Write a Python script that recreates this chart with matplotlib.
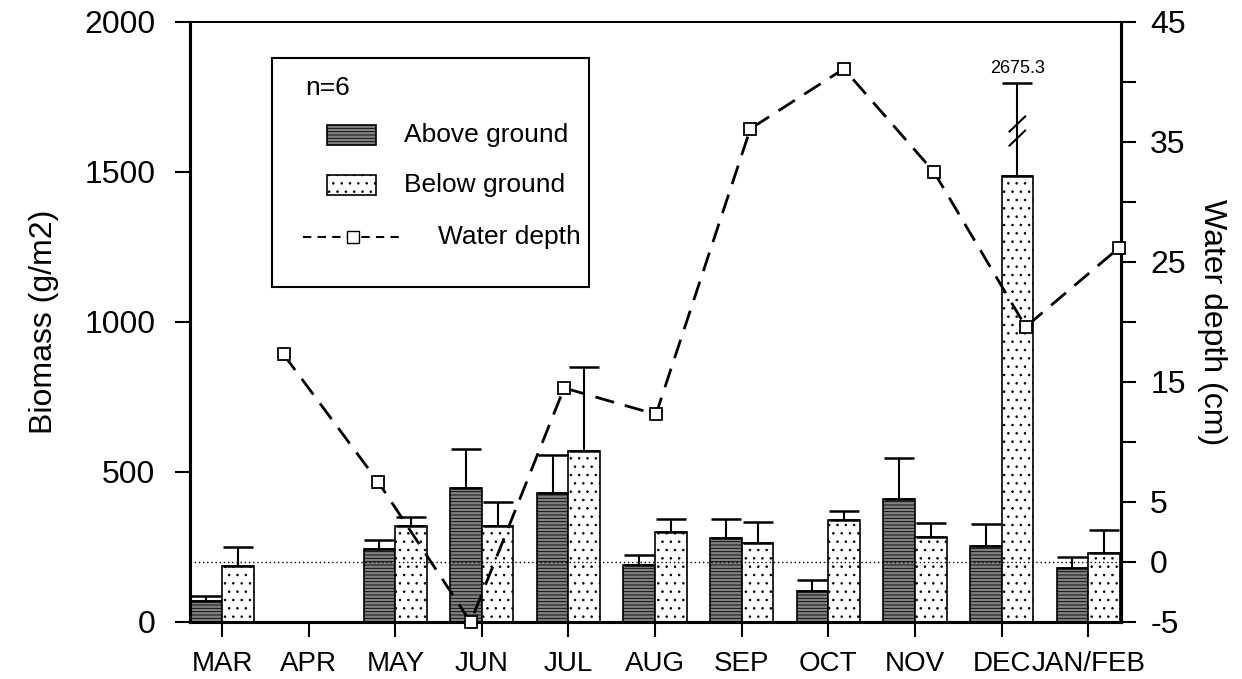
import numpy as np
import matplotlib
matplotlib.use("Agg")
import matplotlib.pyplot as plt
from matplotlib.patches import Rectangle
from matplotlib.lines import Line2D

plt.rcParams['font.family'] = ['Liberation Sans', 'DejaVu Sans']
plt.rcParams['hatch.linewidth'] = 0.6

# Data
months = ['MAR', 'APR', 'MAY', 'JUN', 'JUL', 'AUG', 'SEP', 'OCT', 'NOV', 'DEC', 'JAN/FEB']
above = [71, np.nan, 243, 446, 431, 190, 279, 103, 409, 254, 179]
above_err = [16, np.nan, 29, 131, 126, 33, 64, 37, 139, 73, 39]
below = [188, np.nan, 321, 321, 570, 301, 262, 340, 284, 1487, 231]
below_err = [61, np.nan, 28, 80, 281, 42, 72, 31, 45, 1188.3, 76]

# water depth sampled on its own dates (position in month units)
water_x = [0.71, 1.80, 2.87, 3.95, 5.01, 6.10, 7.18, 8.22, 9.28, 10.36]
water_depth = [17.3, 6.7, -5.0, 14.5, 12.3, 36.1, 41.1, 32.5, 19.6, 26.2]

ymax = 2000
clip_top = 1796  # broken error bar drawn up to here

x = np.arange(len(months))
w = 0.365

fig = plt.figure(figsize=(12.42, 6.79), dpi=100)
ax = fig.add_axes([0.153, 0.084, 0.7496, 0.8836])
ax2 = ax.twinx()

above_kw = dict(facecolor='#808080', edgecolor='black', hatch='-----', linewidth=1.2)
below_kw = dict(facecolor='white', edgecolor='black', hatch='..', linewidth=1.2)

ax.bar(x - w / 2, above, w, **above_kw, zorder=2)
ax.bar(x + w / 2, below, w, **below_kw, zorder=2)

below_arr = np.array(below)
berr = np.array(below_err)
berr_plot = np.minimum(below_arr + berr, clip_top) - below_arr
ebkw = dict(fmt='none', ecolor='black', elinewidth=1.5, capsize=10.5, capthick=1.8, zorder=3)
ax.errorbar(x - w / 2, above, yerr=[np.zeros(len(x)), above_err], **ebkw)
ax.errorbar(x + w / 2, below, yerr=[np.zeros(len(x)), berr_plot], **ebkw)

# break marks and true upper value for the clipped error bar
i = int(np.nanargmax(below_arr + berr))
xb = x[i] + w / 2
for yc in (1613, 1660):
    ax.plot([xb - 0.09, xb + 0.09], [yc - 25, yc + 25], color='black', lw=1.5, zorder=4)
ax.text(xb, clip_top + 22, f'{below_arr[i] + berr[i]:.1f}', ha='center', va='bottom', fontsize=13)

ax.set_xlim(-0.37, 10.38)
ax.set_ylim(0, ymax)
ax.set_yticks([0, 500, 1000, 1500, 2000])
ax.set_xticks(x)
ax.set_xticklabels(months)
ax.set_ylabel('Biomass (g/m2)', fontsize=23, labelpad=18)

# water depth on the right axis
ax2.axhline(0, color='black', ls=(0, (1, 2)), lw=1.0, zorder=1)
ax2.plot(water_x, water_depth, color='black', lw=2, ls=(0, (7, 4)),
         marker='s', markersize=9, markerfacecolor='white', markeredgecolor='black',
         markeredgewidth=1.3, zorder=5, clip_on=False)
ax2.set_ylim(-5, 45)
ax2.set_yticks(np.arange(-5, 50, 5))
ax2.set_yticklabels(['-5', '0', '5', '', '15', '', '25', '', '35', '', '45'])
ax2.set_ylabel('Water depth (cm)', fontsize=23, rotation=270, labelpad=30)

for a in (ax, ax2):
    a.tick_params(labelsize=23, width=1.5, length=11, direction='out')
    for s in ('left', 'right', 'bottom'):
        a.spines[s].set_linewidth(2.2)
    a.spines['top'].set_linewidth(1.3)
ax.tick_params(axis='x', labelsize=20, pad=10)
ax.tick_params(axis='y', pad=14)
ax2.tick_params(axis='y', pad=10)

# legend box drawn by hand (axes fraction coordinates)
T = ax2.transAxes
ax2.add_patch(Rectangle((0.088, 0.558), 0.341, 0.382, transform=T, facecolor='white',
                        edgecolor='black', lw=1.5, zorder=10))
ax2.text(0.1235, 0.89, 'n=6', transform=T, fontsize=19, va='center', zorder=11)
ax2.add_patch(Rectangle((0.147, 0.795), 0.0526, 0.0333, transform=T, zorder=11, **above_kw))
ax2.text(0.2299, 0.8117, 'Above ground', transform=T, fontsize=19, va='center', zorder=11)
ax2.add_patch(Rectangle((0.147, 0.7117), 0.0526, 0.0333, transform=T, zorder=11, **below_kw))
ax2.text(0.2299, 0.728, 'Below ground', transform=T, fontsize=19, va='center', zorder=11)
ax2.add_line(Line2D([0.1214, 0.2256], [0.6417, 0.6417], transform=T, color='black', lw=1.5,
                    ls=(0, (4, 3)), zorder=11))
ax2.add_line(Line2D([0.175], [0.6417], transform=T, marker='s', markersize=9,
                    markerfacecolor='white', markeredgecolor='black', zorder=12))
ax2.text(0.2664, 0.6417, 'Water depth', transform=T, fontsize=19, va='center', zorder=11)

fig.savefig('out.png', dpi=100)
